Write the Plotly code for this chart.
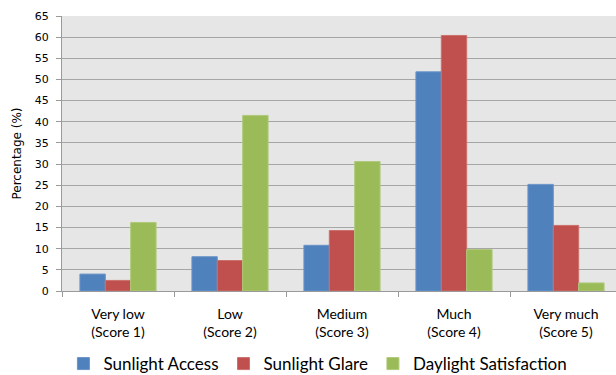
import plotly.graph_objects as go

categories = ["Very low<br>(Score 1)", "Low<br>(Score 2)", "Medium<br>(Score 3)", "Much<br>(Score 4)", "Very much<br>(Score 5)"]
sunlight_access = [4.0, 8.1, 10.8, 51.8, 25.2]
sunlight_glare = [2.5, 7.2, 14.3, 60.4, 15.5]
daylight_satisfaction = [16.2, 41.5, 30.6, 9.8, 1.9]
y_ticks = list(range(0, 66, 5))

series = [
    ("Sunlight Access", sunlight_access, "#4F81BD", "#6A94C8"),
    ("Sunlight Glare", sunlight_glare, "#C0504D", "#CC706D"),
    ("Daylight Satisfaction", daylight_satisfaction, "#9BBB59", "#AFC97A"),
]

fig = go.Figure()
for name, vals, col, edge in series:
    fig.add_trace(go.Bar(x=categories, y=vals, name=name, marker=dict(color=col, line=dict(color=edge, width=1))))

fig.update_layout(
    width=622, height=375,
    margin=dict(l=62, r=0, t=16, b=84, autoexpand=False),
    paper_bgcolor="white",
    plot_bgcolor="#E6E6E6",
    barmode="group",
    bargap=0.32,
    bargroupgap=0,
    font=dict(family="Lato, Liberation Sans, sans-serif", color="#000000"),
    legend=dict(orientation="h", x=0.457, xanchor="center", y=-0.2655, yanchor="middle",
                font=dict(size=17, family="Lato, sans-serif"), itemwidth=30, tracegroupgap=0),
    showlegend=True,
)
fig.update_xaxes(
    automargin=False,
    showline=True, linecolor="#9A9A9A", linewidth=1,
    ticks="outside", tickson="boundaries", ticklen=5, tickcolor="#9A9A9A",
    ticklabelstandoff=10,
    tickfont=dict(size=14, family="Lato, sans-serif"),
    showgrid=False,
)
fig.update_yaxes(
    automargin=False,
    range=[0, 65], tickvals=y_ticks,
    showline=True, linecolor="#9A9A9A", linewidth=1,
    ticks="outside", ticklen=5, tickcolor="#9A9A9A",
    ticklabelstandoff=5,
    gridcolor="#A6A6A6", gridwidth=1,
    tickfont=dict(size=11, family="DejaVu Sans, sans-serif"),
    title=dict(text="Percentage (%)", font=dict(size=12, family="DejaVu Sans, sans-serif"), standoff=10),
    zeroline=False,
)

fig.write_html("out.html", config={"displayModeBar": False},
               post_script="document.body.style.margin='0';document.body.style.overflow='hidden';")
